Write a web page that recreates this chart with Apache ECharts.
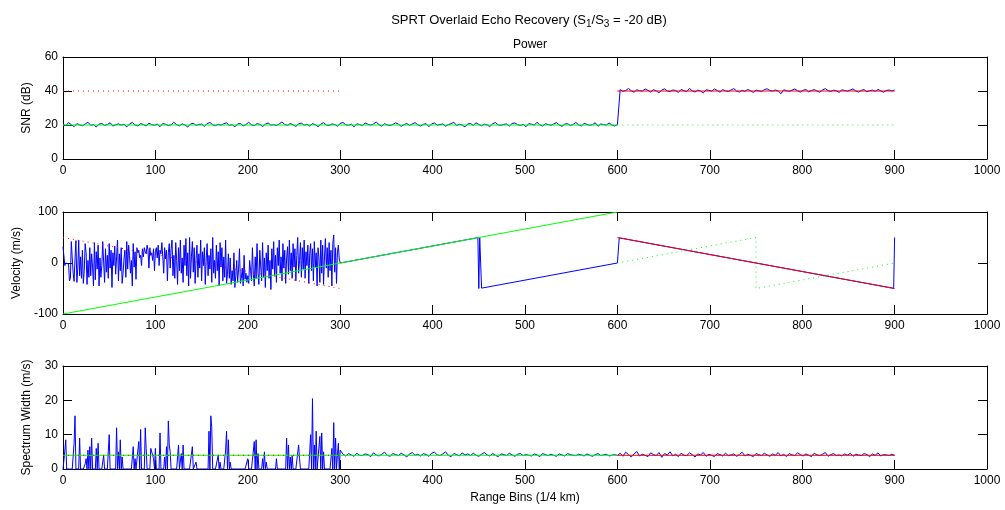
<!DOCTYPE html>
<html><head><meta charset="utf-8">
<script src="https://cdn.jsdelivr.net/npm/echarts@6/dist/echarts.min.js"></script>
<style>html,body{margin:0;padding:0;background:#fff}#c{width:1005px;height:510px}</style>
</head><body><div id="c"></div><script>
// ---------- DATA ----------
// SNR (dB): blue estimate, bins 0..600 step 3
const snrLow = [
20.4,19.6,21.4,20.2,19.0,20.8,20.1,19.5,20.6,21.6,19.8,20.2,18.8,20.5,20.9,19.7,20.3,21.3,19.4,20.1,
20.7,19.9,20.4,18.9,20.6,21.5,20.0,19.5,20.8,20.3,19.4,21.1,20.2,19.8,20.5,19.0,20.9,20.4,19.7,20.1,
21.6,20.2,19.5,20.7,20.0,18.8,20.6,21.0,19.8,20.3,20.5,19.2,20.8,21.5,20.1,19.6,20.4,19.9,20.7,21.3,
19.7,20.3,18.9,20.6,20.9,19.5,20.2,21.7,20.0,19.6,20.8,20.4,19.1,20.5,21.2,19.9,20.2,19.7,20.6,21.8,
20.3,19.8,20.9,20.1,19.2,20.7,21.1,19.9,20.4,19.4,20.8,20.2,19.0,20.5,21.4,20.0,19.7,20.6,20.3,19.3,
20.9,21.5,20.1,19.8,20.5,18.9,20.7,20.3,19.6,21.2,20.4,19.9,20.6,21.7,20.2,19.3,20.8,20.0,19.7,20.3,
21.3,20.5,19.2,20.2,20.9,19.8,20.6,21.4,20.1,19.4,20.4,20.8,19.0,20.7,21.2,19.9,20.3,20.6,19.3,20.2,
20.8,21.6,19.7,20.4,20.0,18.9,20.6,20.9,19.8,21.3,20.3,19.5,20.5,20.1,19.1,20.7,21.5,20.0,19.8,20.4,
20.6,19.3,20.9,21.2,20.2,19.7,20.4,19.0,20.8,20.5,19.9,21.6,20.1,19.4,20.7,20.3,19.8,20.6,21.4,20.0,
19.2,20.5,20.8,19.7,20.3,21.5,20.1,19.4,20.9,20.4,19.8,20.2,21.3,19.3,20.6,20.3,19.9,21.2,20.0,19.4,
20.2];
// SNR blue estimate, bins 603..900 step 3
const snrHigh = [
40.8,39.8,40.3,41.5,40.1,39.3,40.7,40.2,39.9,41.2,40.4,39.4,40.8,40.1,39.0,40.5,41.3,40.0,39.7,40.6,
40.3,39.2,40.9,40.2,39.6,41.5,40.1,39.4,40.5,40.0,38.9,40.7,40.4,39.9,41.2,40.3,39.3,40.8,40.1,39.7,
40.6,41.4,40.0,39.4,40.4,39.8,40.9,40.2,39.2,40.5,40.1,39.7,40.8,41.3,40.3,39.9,40.6,40.0,38.4,40.7,
40.2,39.8,40.5,41.2,40.1,39.4,40.4,40.9,39.5,40.3,40.8,40.0,39.3,40.6,41.4,40.2,39.8,40.5,40.1,39.2,
40.7,40.3,39.9,40.6,41.2,40.0,39.4,40.4,40.8,39.5,40.2,40.5,39.8,40.9,40.1,39.3,40.3,40.6,40.0,40.6];
const snrRefRed = {bins:[0,300], values:[40,40]};
const snrRedSolid = {bins:[600,900], values:[40,40]};
const snrGreenSolid = {bins:[0,600], values:[20,20]};
const snrGreenDot = {bins:[600,900], values:[20,20]};

// Velocity (m/s): blue estimate, bins 0..300 step 1
const velNoise = [
32,30,-5,0,0,0,-2,-35,-30,42,10,-20,-36,8,44,-38,-10,45,-25,12,
-30,25,-40,-15,38,20,-42,5,-28,30,-25,18,-8,-45,40,-33,22,-12,35,-45,
10,-28,-5,42,2,-38,28,-18,15,-30,38,-10,25,-48,20,-5,33,-22,12,45,
-35,18,-15,30,-40,-20,8,25,-28,42,-12,35,15,-20,5,-45,38,-8,22,-32,
30,20,25,10,15,-5,28,12,30,22,18,35,25,-10,30,15,20,5,28,-15,
22,30,10,35,-5,25,18,40,12,-20,30,8,25,-35,20,38,-10,28,45,-25,
15,-30,40,5,-42,30,-15,45,-20,10,-38,35,-5,48,-25,20,-45,50,-30,12,
42,-18,30,-40,8,35,-28,18,-10,45,-35,22,-5,30,-42,10,38,-25,15,-12,
28,-38,50,-20,5,-30,35,-15,22,-45,40,-8,30,-35,12,-28,45,-40,-22,18,
-30,10,-42,-15,-35,20,-48,-25,5,-38,-12,28,-40,-30,-10,-45,15,-32,-20,-38,
-25,-40,5,-15,-35,30,-22,-45,12,-30,38,-18,-42,25,-8,-35,40,-28,10,-48,
20,-15,35,-30,5,-52,28,-12,42,-25,15,-38,30,-5,45,-20,12,-35,38,-10,
25,-40,8,32,-22,45,-15,20,-30,38,-8,28,-35,15,50,-20,5,40,-28,30,
-12,45,-30,22,-5,35,-40,18,38,-15,28,-35,42,-8,20,-45,30,10,-38,45,
-20,35,-42,12,48,-10,30,-28,40,-15,25,-45,38,55,-18,30,-40,20,35,8,
0];
const velTail = {bins:[300,449,450,451,453,600,602,899,900], values:[0,49.7,-50,50,-49.3,0,49.3,-49.7,50]};
const velGreenSolid = {bins:[0,600], values:[-100,100]};
const velGreenDot = {bins:[600,750,750,900], values:[0,50,-50,0]};
const velRedDot = {bins:[0,300], values:[50,-50]};
const velRedSolid = {bins:[600,900], values:[50,-50]};

// Spectrum width (m/s): blue estimate, bins 0..300 step 1
const swLow = [
0,2.5,3,8.5,0,0,0,0,0,0,0,0,7.5,15.5,0,0,0,0,9,0,
0,0,0,0,1.5,3,0,5.5,0,6.5,0,9,0,0,0,0,6,0,7.5,0,
0,0,0,0,4,0,0,0,0,0,10,0,0,0,0,0,0,0,12,0,
5,0,8.5,0,3.5,0,0,0,0,0,0,0,0,0,0,0,6.5,0,3,0,
0,0,8,0,11.5,0,0,0,0,12,6,0,0,0,0,6,6.5,5.5,3,0,
6,0,0,0,0,10.5,0,0,0,0,3.5,0,6.5,0,14,7,5,0,0,0,
0,0,0,0,0,7,0,0,4.5,0,7,0,0,0,0,0,0,0,0,0,
6.5,0,0,0,2,0,0,0,0,0,0,0,0,0,0,0,0,0,11,0,
15.5,12,0,0,0,0,0,0,4,0,2,0,0,0,0,0,5.5,11,0,8.5,
0,2,0,0,0,0,0,0,0,0,0,0,0,0,0,0,0,0,0,0,
3,0,0,0,0,0,0,8,0,8.5,0,4.5,0,0,0,0,3,0,5,0,
2,0,0,0,0,0,0,0,0,0,0,3,0,0,0,0,0,0,0,0,
0,0,9,0,7,0,3.5,0,4,0,0,0,0,0,0,7,3,0,0,0,
0,0,0,0,0,0,0,0,10,0,20.5,0,7,0,11,0,0,0,9.5,0,
10.5,0,5,0,0,0,0,0,0,0,0,6,0,13.5,0,9,0,4,7.5,0,
5.5];
// bins 303..900 step 3
const swHigh = [
4.3,3.8,4.5,4.1,3.7,4.6,4.0,3.9,4.4,4.2,3.6,4.7,4.1,3.8,4.3,4.9,4.0,3.7,4.5,4.2,
3.9,4.6,4.1,3.5,4.4,4.8,4.0,4.3,3.8,4.5,4.2,3.7,4.6,4.9,4.1,3.9,4.4,5.0,4.0,3.6,
4.5,4.2,3.8,4.7,4.1,4.4,3.9,4.6,4.0,3.7,4.3,4.8,4.1,3.8,4.5,4.0,3.6,4.4,4.2,3.9,
4.6,4.1,3.7,4.3,4.5,3.9,4.2,4.0,3.8,4.4,4.1,3.6,4.5,4.2,3.9,4.3,4.0,3.7,4.4,4.1,
3.8,4.5,4.2,4.0,3.9,4.3,4.1,3.8,4.4,4.0,3.7,4.2,4.5,3.9,4.1,4.3,3.8,4.0,4.2,3.9,
4.6,3.7,4.9,4.2,3.5,4.4,5.1,3.8,4.3,4.0,3.6,4.7,4.2,3.9,4.8,3.4,4.5,4.1,5.0,3.8,
4.3,3.6,4.6,4.0,3.9,4.7,4.2,3.5,4.4,4.1,4.8,3.7,4.3,4.0,3.6,4.5,4.2,3.8,4.6,3.9,
4.1,4.4,3.7,4.2,4.9,3.8,4.3,4.0,3.6,4.5,4.2,3.9,4.6,4.1,3.7,4.4,4.0,4.8,3.8,4.3,
3.6,4.5,4.1,3.9,4.7,4.2,3.8,4.4,4.0,3.6,4.6,4.1,3.9,4.3,4.8,3.7,4.2,4.5,3.9,4.1,
3.8,4.4,4.0,4.6,3.7,4.3,4.1,3.9,4.5,4.2,3.6,4.4,4.0,4.7,3.8,4.2,4.1,3.9,4.3,4.0];
const swRedDot = {bins:[0,300], values:[4,4]};
const swGreenSolid = {bins:[0,600], values:[4,4]};
const swGreenDot = {bins:[600,900], values:[4,4]};
const swRedSolid = {bins:[600,900], values:[4,4]};

// ---------- BUILD ----------
const FONT = 'Liberation Sans, Arial, sans-serif';
const INK = '#000';
const BLUE = '#0000ff', GREEN = '#00ff00', RED = '#ff0000';
function seq(arr, start, step){ return arr.map((v,i)=>[start+i*step, v]); }
function pairs(o){ return o.bins.map((b,i)=>[b, o.values[i]]); }

const gridDefs = [
  {left:63, width:924, top:57, height:102},
  {left:63, width:924, top:212, height:102},
  {left:63, width:924, top:366, height:103}
];
const yDefs = [
  {min:0, max:60, interval:20, name:'SNR (dB)', gap:30},
  {min:-100, max:100, interval:100, name:'Velocity (m/s)', gap:38},
  {min:0, max:30, interval:10, name:'Spectrum Width (m/s)', gap:30}
];
const tick = {show:true, inside:true, length:9, lineStyle:{color:INK, width:1}};
const line = {show:true, onZero:false, lineStyle:{color:INK, width:1}};
const xAxis = [], yAxis = [];
gridDefs.forEach((g,i)=>{
  xAxis.push({type:'value', gridIndex:i, position:'bottom', min:0, max:1000, interval:100,
    axisLine:line, axisTick:tick, splitLine:{show:false},
    axisLabel:{color:INK, fontSize:12, fontFamily:FONT, margin:6, formatter:v=>String(v)},
    name: i===2 ? 'Range Bins (1/4 km)' : '', nameLocation:'middle', nameGap:23,
    nameTextStyle:{color:INK, fontSize:12, fontFamily:FONT}});
  xAxis.push({type:'value', gridIndex:i, position:'top', min:0, max:1000, interval:100,
    axisLine:line, axisTick:tick, splitLine:{show:false}, axisLabel:{show:false}});
  const y = yDefs[i];
  yAxis.push({type:'value', gridIndex:i, position:'left', min:y.min, max:y.max, interval:y.interval,
    axisLine:line, axisTick:tick, splitLine:{show:false},
    axisLabel:{color:INK, fontSize:12, fontFamily:FONT, margin:5},
    name:y.name, nameLocation:'middle', nameGap:y.gap,
    nameTextStyle:{color:INK, fontSize:12, fontFamily:FONT}});
  yAxis.push({type:'value', gridIndex:i, position:'right', min:y.min, max:y.max, interval:y.interval,
    axisLine:line, axisTick:tick, splitLine:{show:false}, axisLabel:{show:false}});
});

function s(data, gi, color, dotted, z){
  return {type:'line', xAxisIndex:gi*2, yAxisIndex:gi*2, data:data, showSymbol:false, symbol:'none',
    silent:true, z:z, clip:true,
    lineStyle:{color:color, width:1, type: dotted ? [1,4] : 'solid', cap:'butt'}};
}
const series = [
  s(seq(snrLow,0,3).concat(seq(snrHigh,603,3)), 0, BLUE, false, 2),
  s(pairs(snrGreenSolid), 0, GREEN, false, 3),
  s(pairs(snrGreenDot), 0, GREEN, true, 3),
  s(pairs(snrRefRed), 0, RED, true, 4),
  s(pairs(snrRedSolid), 0, RED, false, 4),

  s(seq(velNoise,0,1).concat(pairs(velTail).slice(1)), 1, BLUE, false, 2),
  s(pairs(velGreenSolid), 1, GREEN, false, 3),
  s(pairs(velGreenDot), 1, GREEN, true, 3),
  s(pairs(velRedDot), 1, RED, true, 4),
  s(pairs(velRedSolid), 1, RED, false, 4),

  s(seq(swLow,0,1).concat(seq(swHigh,303,3)), 2, BLUE, false, 2),
  s(pairs(swGreenSolid), 2, GREEN, false, 3),
  s(pairs(swGreenDot), 2, GREEN, true, 3),
  s(pairs(swRedDot), 2, RED, true, 4),
  s(pairs(swRedSolid), 2, RED, false, 4)
];

const chart = echarts.init(document.getElementById('c'), null, {renderer:'canvas'});
chart.setOption({
  animation:false,
  backgroundColor:'#fff',
  title:[
    {text:'{a|SPRT Overlaid Echo Recovery (S}{s|1}{a|/S}{s|3}{a| = -20 dB)}', left:524, top:9, textAlign:'center',
      textStyle:{fontWeight:'normal', rich:{
        a:{fontSize:13, fontFamily:FONT, fontWeight:'normal', color:INK, lineHeight:15, verticalAlign:'top'},
        s:{fontSize:10, fontFamily:FONT, fontWeight:'normal', color:INK, lineHeight:11, verticalAlign:'bottom', padding:[6,0,0,0]}
      }}},
    {text:'Power', left:525, top:34, textAlign:'center',
      textStyle:{fontSize:12, fontFamily:FONT, color:INK, fontWeight:'normal'}}
  ],
  grid:gridDefs,
  xAxis:xAxis,
  yAxis:yAxis,
  series:series
});
</script></body></html>
